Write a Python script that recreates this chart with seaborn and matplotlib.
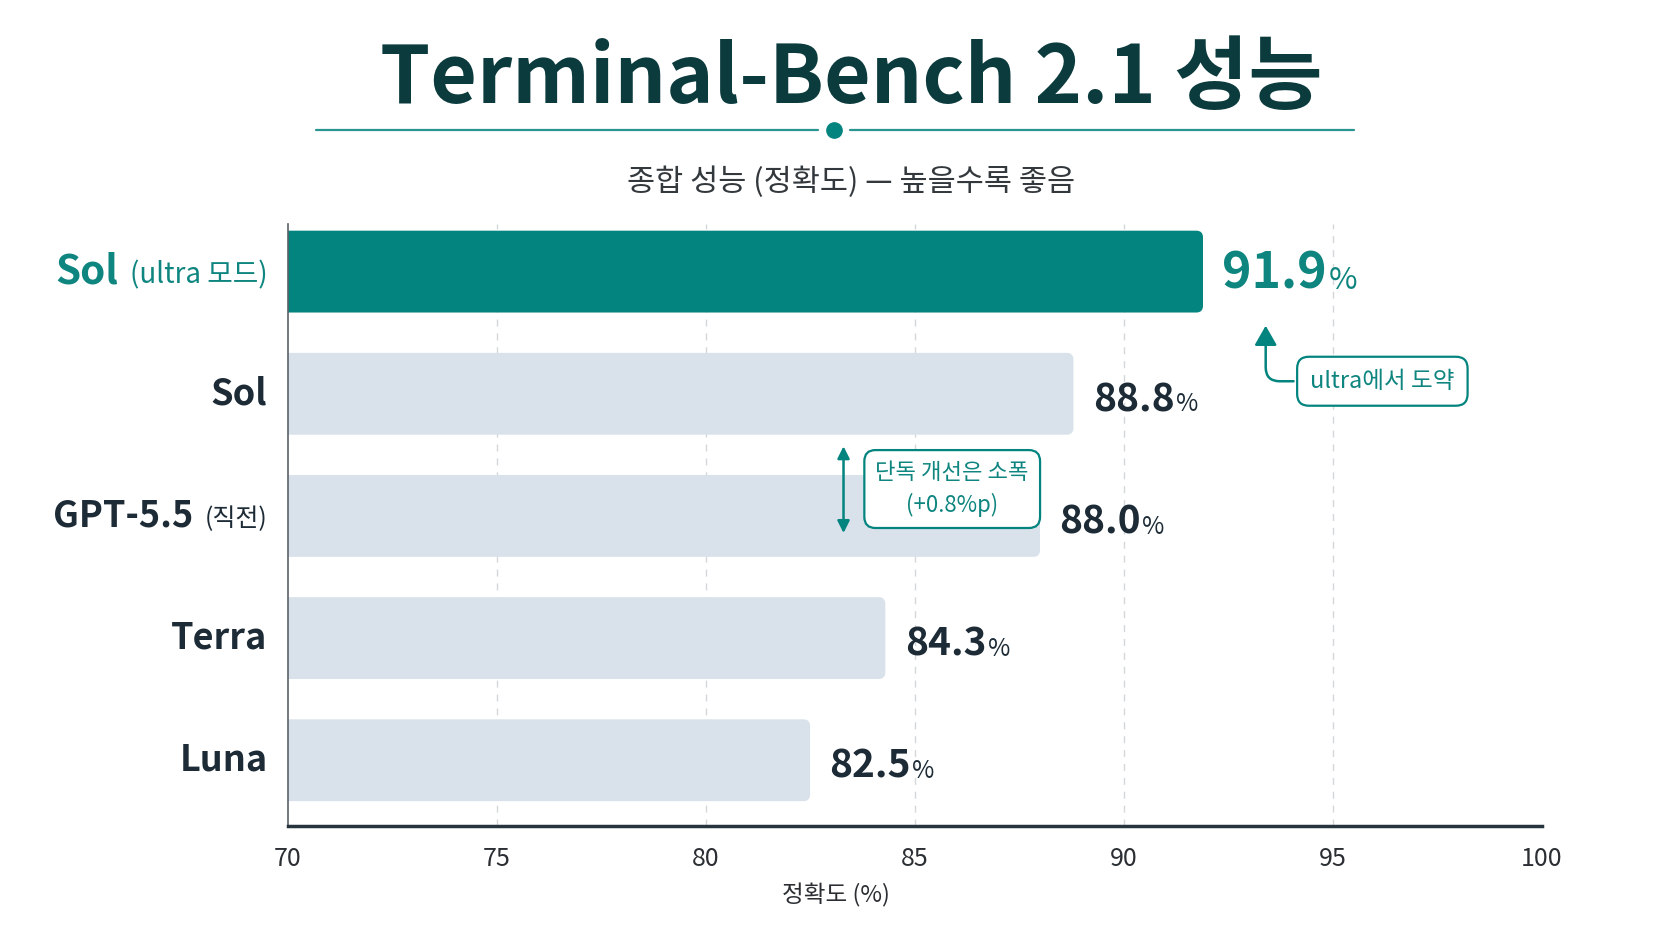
import matplotlib
matplotlib.use("Agg")
import matplotlib.pyplot as plt
import seaborn as sns
import pandas as pd
from matplotlib.offsetbox import TextArea, HPacker, AnnotationBbox
from matplotlib.lines import Line2D
from matplotlib.patches import FancyBboxPatch

# ---- data ----
models = ["Sol (ultra 모드)", "Sol", "GPT-5.5 (직전)", "Terra", "Luna"]
label_main = ["Sol", "Sol", "GPT-5.5", "Terra", "Luna"]
label_sub = ["(ultra 모드)", "", "(직전)", "", ""]
values = [91.9, 88.8, 88.0, 84.3, 82.5]
x_ticks = [70, 75, 80, 85, 90, 95, 100]
title = "Terminal-Bench 2.1 성능"
subtitle = "종합 성능 (정확도) — 높을수록 좋음"
xlabel = "정확도 (%)"
note_ultra = "ultra에서 도약"
note_gap = "단독 개선은 소폭\n(+0.8%p)"

TEAL = "#03847f"
TEAL_TXT = "#0f8580"
GRAY_BAR = "#d9e1ea"
DARK = "#1d2b36"
TITLE_C = "#0b3b3d"

sns.set_theme(style="white")
plt.rcParams["font.family"] = ["Noto Sans CJK KR", "DejaVu Sans"]

df = pd.DataFrame({"model": models, "value": values})
palette = {m: (TEAL if i == 0 else GRAY_BAR) for i, m in enumerate(models)}

fig = plt.figure(figsize=(16.72, 9.41), dpi=100)
fig.patch.set_facecolor("white")
ax = fig.add_axes([0.172, 0.122, 0.750, 0.640])

sns.barplot(data=df, x="value", y="model", hue="model", palette=palette,
            orient="h", width=0.67, saturation=1, legend=False, ax=ax, zorder=2)

ax.set_xlim(70, 100)
ax.set_ylim(4.54, -0.39)

# round the bar ends (geometry taken from seaborn's bars)
aspect = (1 / 122.0) / (1 / 41.83)
for p in list(ax.patches):
    x0, y0, w, h = p.get_x(), p.get_y(), p.get_width(), p.get_height()
    fb = FancyBboxPatch((x0 - 1, y0), w + 1, h,
                        boxstyle="round,pad=0,rounding_size=0.16",
                        mutation_aspect=aspect, fc=p.get_facecolor(), ec="none", zorder=2)
    p.set_visible(False)
    ax.add_patch(fb)

ax.set_xticks(x_ticks)
ax.set_xticklabels([str(t) for t in x_ticks], fontsize=18, color="#2b2f33")
ax.tick_params(axis="x", length=0, pad=14)
ax.set_yticks([])
ax.set_ylabel("")
ax.set_xlabel(xlabel, fontsize=17, color="#2b2f33")
ax.xaxis.set_label_coords(0.437, -0.095)

for t in x_ticks[1:-1]:
    ax.axvline(t, color="#d3d7db", lw=1, ls=(0, (5, 5)), zorder=0)

for s in ["top", "right"]:
    ax.spines[s].set_visible(False)
ax.spines["left"].set_color("#5a6168")
ax.spines["left"].set_linewidth(1.2)
ax.spines["bottom"].set_color("#26343d")
ax.spines["bottom"].set_linewidth(2.5)

# category labels (mixed sizes)
for i, (mn, sb) in enumerate(zip(label_main, label_sub)):
    col = TEAL_TXT if i == 0 else DARK
    big = 29 if i == 0 else 26
    kids = [TextArea(mn, textprops=dict(fontsize=big, fontweight="bold", color=col))]
    if sb:
        kids.append(TextArea(sb, textprops=dict(fontsize=20 if i == 0 else 18,
                                                fontweight="medium", color=col)))
    pk = HPacker(children=kids, align="baseline", pad=0, sep=8)
    ab = AnnotationBbox(pk, (-0.016, i), xycoords=("axes fraction", "data"),
                        box_alignment=(1, 0.5), frameon=False, annotation_clip=False)
    ax.add_artist(ab)

# value labels
for i, v in enumerate(values):
    col = TEAL_TXT if i == 0 else DARK
    big = 36 if i == 0 else 28
    kids = [TextArea(f"{v:.1f}", textprops=dict(fontsize=big, fontweight="bold", color=col)),
            TextArea("%", textprops=dict(fontsize=big * 0.62, fontweight="medium", color=col))]
    pk = HPacker(children=kids, align="baseline", pad=0, sep=1)
    ab = AnnotationBbox(pk, (v, i + (0.05 if i else 0.02)), xycoords="data",
                        xybox=(14, 0), boxcoords="offset points",
                        box_alignment=(0, 0.5), frameon=False, annotation_clip=False)
    ax.add_artist(ab)

# annotation: ultra jump
ax.annotate(note_ultra, xy=(values[0] + 1.5, 0.42), xycoords="data",
            xytext=(84, -42), textcoords="offset points",
            fontsize=17, color=TEAL_TXT, ha="center", va="center",
            bbox=dict(boxstyle="round,pad=0.55,rounding_size=0.5", fc="white",
                      ec=TEAL, lw=1.6),
            arrowprops=dict(arrowstyle="-|>,head_length=0.7,head_width=0.4",
                            color=TEAL, lw=1.8,
                            connectionstyle="angle,angleA=180,angleB=90,rad=14"),
            annotation_clip=False, zorder=5)

# annotation: small standalone gain
ax.annotate("", xy=(83.3, 1.43), xytext=(83.3, 2.14), xycoords="data",
            arrowprops=dict(arrowstyle="<|-|>,head_length=0.6,head_width=0.3",
                            color=TEAL, lw=1.8, shrinkA=0, shrinkB=0), zorder=5)
ax.text(85.9, 1.78, note_gap, fontsize=16, color=TEAL_TXT, ha="center", va="center",
        linespacing=1.45,
        bbox=dict(boxstyle="round,pad=0.5,rounding_size=0.5", fc="white", ec=TEAL, lw=1.6),
        zorder=5)

# title, decoration, subtitle
W, H = 1672.0, 941.0
fig.text(851 / W, 1 - 80 / H, title, fontsize=58, fontweight="bold", color=TITLE_C,
         ha="center", va="center")
fig.add_artist(Line2D([316 / W, 818 / W], [1 - 130 / H] * 2, color="#2a958f", lw=1.6))
fig.add_artist(Line2D([850 / W, 1354 / W], [1 - 130 / H] * 2, color="#2a958f", lw=1.6))
fig.add_artist(Line2D([834 / W], [1 - 130 / H], marker="o", ms=11, color=TEAL, mec=TEAL))
fig.text(851 / W, 1 - 182 / H, subtitle, fontsize=22, color="#33383d",
         ha="center", va="center")

fig.savefig("out.png", dpi=100, facecolor="white")
